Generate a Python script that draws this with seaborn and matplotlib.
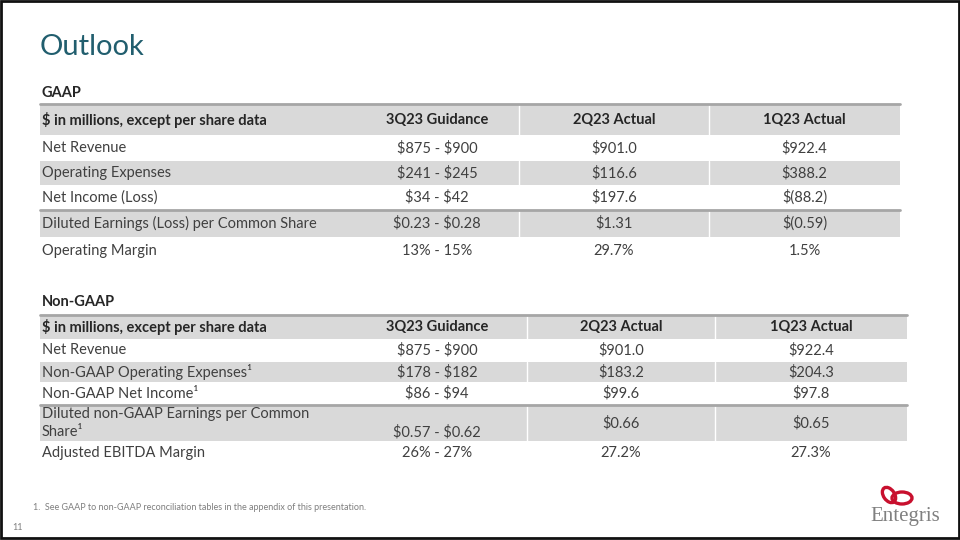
import matplotlib
matplotlib.use('Agg')
import matplotlib.pyplot as plt
import seaborn as sns
from matplotlib.patches import Ellipse, Rectangle

sns.set_theme(style='white')
plt.rcParams['font.family'] = ['Lato', 'DejaVu Sans']
plt.rcParams['text.parse_math'] = False

# region data
col_headers = ['$ in millions, except per share data', '3Q23 Guidance', '2Q23 Actual', '1Q23 Actual']

gaap_labels = ['Net Revenue', 'Operating Expenses', 'Net Income (Loss)',
               'Diluted Earnings (Loss) per Common Share', 'Operating Margin']
gaap_guidance = ['$875 - $900', '$241 - $245', '$34 - $42', '$0.23 - $0.28', '13% - 15%']
gaap_2q23 = ['$901.0', '$116.6', '$197.6', '$1.31', '29.7%']
gaap_1q23 = ['$922.4', '$388.2', '$(88.2)', '$(0.59)', '1.5%']

nongaap_labels = ['Net Revenue', 'Non-GAAP Operating Expenses¹', 'Non-GAAP Net Income¹',
                  'Diluted non-GAAP Earnings per Common\nShare¹', 'Adjusted EBITDA Margin']
nongaap_guidance = ['$875 - $900', '$178 - $182', '$86 - $94', '$0.57 - $0.62', '26% - 27%']
nongaap_2q23 = ['$901.0', '$183.2', '$99.6', '$0.66', '27.2%']
nongaap_1q23 = ['$922.4', '$204.3', '$97.8', '$0.65', '27.3%']

footnote = '1.  See GAAP to non-GAAP reconciliation tables in the appendix of this presentation.'
# endregion

TITLE_C = '#215E6E'
TXT = '#404040'
HDR = '#262626'
FILL = '#D9D9D9'
RULE = '#A6A6A6'
FS = 10.5

fig = plt.figure(figsize=(9.6, 5.4), dpi=100)
ax = fig.add_axes([0, 0, 1, 1])
ax.set_xlim(0, 960)
ax.set_ylim(540, 0)
ax.axis('off')

# ramka slajdu
ax.add_patch(Rectangle((1, 1), 957.5, 537, fill=False, edgecolor='#111111', linewidth=2))

ax.text(40, 47, 'Outlook', fontsize=21, color=TITLE_C, va='center', ha='left')


def draw_table(top, bounds, x_right, col_edges, guid_x, labels, guid, q2, q1, title, title_y):
    ax.text(42, title_y, title, fontsize=FS, fontweight='bold', color=HDR, va='center')
    edges = [top] + bounds
    # naglowek + co drugi wiersz szary
    for i in [0, 2, 4]:
        y0, y1 = edges[i], edges[i + 1]
        ax.barh((y0 + y1) / 2, x_right - 40, height=y1 - y0, left=40, color=FILL, linewidth=0)
        for cx in col_edges:
            ax.plot([cx, cx], [y0, y1], color='white', linewidth=1)
    ax.plot([40, x_right], [top, top], color=RULE, linewidth=2)
    ax.plot([40, x_right], [edges[4], edges[4]], color=RULE, linewidth=2)

    centers = [guid_x, (col_edges[0] + col_edges[1]) / 2, (col_edges[1] + x_right) / 2]
    hy = (edges[0] + edges[1]) / 2
    ax.text(42, hy, col_headers[0], fontsize=FS, fontweight='bold', color=HDR, va='center')
    for cx, h in zip(centers, col_headers[1:]):
        ax.text(cx, hy, h, fontsize=FS, fontweight='bold', color=HDR, va='center', ha='center')

    for r in range(len(labels)):
        y = (edges[r + 1] + edges[r + 2]) / 2
        two_lines = '\n' in labels[r]
        ax.text(42, y, labels[r], fontsize=FS, color=TXT, va='center', linespacing=1.35)
        for k, (cx, v) in enumerate(zip(centers, [guid[r], q2[r], q1[r]])):
            # prognoza w dwulinijkowym wierszu siedzi na dolnej linii
            yy = y + 9 if (two_lines and k == 0) else y
            ax.text(cx, yy, v, fontsize=FS, color=TXT, va='center', ha='center')


draw_table(104, [135, 161, 185, 210, 237, 265], 900, [519, 709], 437,
           gaap_labels, gaap_guidance, gaap_2q23, gaap_1q23, 'GAAP', 93)
draw_table(315, [339, 362, 382, 405, 441, 465], 907, [527, 715], 437,
           nongaap_labels, nongaap_guidance, nongaap_2q23, nongaap_1q23, 'Non-GAAP', 302)

ax.text(33, 507, footnote, fontsize=6.5, color='#7F7F7F', va='center')
ax.text(12, 527, '11', fontsize=6.5, color='#7F7F7F', va='center')

# logo
ax.add_patch(Ellipse((889, 495), 11, 17, angle=-35, fill=False, edgecolor='#C8102E', linewidth=2.4))
ax.add_patch(Ellipse((902, 498), 20, 12, angle=0, fill=False, edgecolor='#C8102E', linewidth=2.4))
ax.text(905, 516, 'Entegris', fontsize=15, color='#808080', family='Liberation Serif',
        va='center', ha='center')

fig.savefig('out.png', dpi=100)
